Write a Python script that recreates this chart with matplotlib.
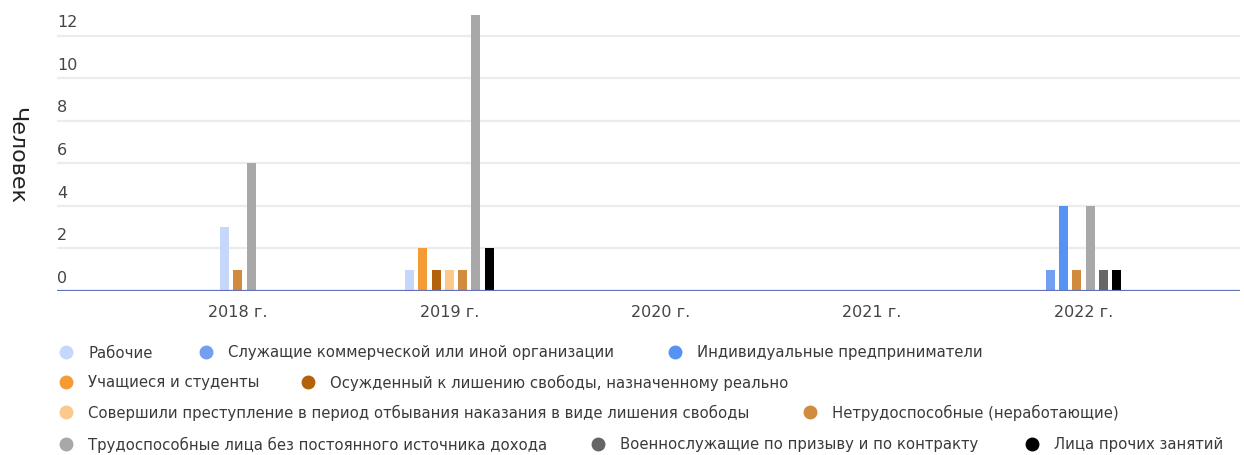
import matplotlib
matplotlib.use("Agg")
import matplotlib.pyplot as plt
import numpy as np

plt.rcParams['font.family'] = ['DejaVu Sans']

years = ['2018 г.', '2019 г.', '2020 г.', '2021 г.', '2022 г.']

series_names = [
    'Рабочие',
    'Служащие коммерческой или иной организации',
    'Индивидуальные предприниматели',
    'Учащиеся и студенты',
    'Осужденный к лишению свободы, назначенному реально',
    'Совершили преступление в период отбывания наказания в виде лишения свободы',
    'Нетрудоспособные (неработающие)',
    'Трудоспособные лица без постоянного источника дохода',
    'Военнослужащие по призыву и по контракту',
    'Лица прочих занятий',
]
colors = ['#c5d8fb', '#729ff0', '#5593f3', '#f49b35', '#b3610a',
          '#fbc98c', '#d08b3e', '#a8a8a8', '#666666', '#000000']

rabochie       = [3, 1, 0, 0, 0]
sluzhashie     = [0, 0, 0, 0, 1]
ip             = [0, 0, 0, 0, 4]
uchashiesya    = [0, 2, 0, 0, 0]
osuzhdenny     = [0, 1, 0, 0, 0]
sovershili     = [0, 1, 0, 0, 0]
netrudosp      = [1, 1, 0, 0, 1]
trudosp        = [6, 13, 0, 0, 4]
voennosluzh    = [0, 0, 0, 0, 1]
prochie        = [0, 2, 0, 0, 1]

values = [rabochie, sluzhashie, ip, uchashiesya, osuzhdenny,
          sovershili, netrudosp, trudosp, voennosluzh, prochie]

fig = plt.figure(figsize=(12.44, 4.56), dpi=100)
ax = fig.add_axes([0.0458, 0.3596, 0.951, 0.618])

slot = 0.0628
width = 0.043
x = np.arange(len(years))
for j in range(len(years)):
    idx = [i for i in range(len(values)) if values[i][j] > 0]
    n = len(idx)
    for k, i in enumerate(idx):
        ax.bar(x[j] + (k - (n - 1) / 2) * slot, values[i][j], width=width,
               color=colors[i], zorder=3)

ax.set_xlim(-0.856, 4.74)
ax.set_ylim(0, 13.25)
ax.set_yticks(range(0, 13, 2))
for t in range(2, 13, 2):
    ax.axhline(t, color='#ececec', lw=1.6, zorder=1)
ax.axhline(0, color='#6470b8', lw=1.6, zorder=4)
for s in ax.spines.values():
    s.set_visible(False)
ax.set_yticklabels([])
ax.tick_params(length=0)
ax.set_xticks(x)
ax.set_xticklabels(years, fontsize=11.5, color='#444444')
ax.tick_params(axis='x', pad=9)
for t in range(0, 13, 2):
    ax.text(0.0, t + 0.3, str(t), transform=ax.get_yaxis_transform(),
            ha='left', va='bottom', fontsize=11.5, color='#444444')

fig.text(0.013, 0.66, 'Человек', rotation=270, ha='center', va='center',
         fontsize=16, color='#222222')

# legend rows: (marker x px, series index)
leg_rows = [
    [(66, 0), (206, 1), (675, 2)],
    [(66, 3), (308, 4)],
    [(66, 5), (810, 6)],
    [(66, 7), (598, 8), (1032, 9)],
]
row_y = [353, 383, 413, 445]
for r, row in enumerate(leg_rows):
    yf = 1 - row_y[r] / 456
    for px, i in row:
        fig.lines.append(plt.Line2D([px / 1244], [yf], marker='o', markersize=9,
                                    color=colors[i], transform=fig.transFigure))
        fig.text((px + 22) / 1244, yf, series_names[i], ha='left', va='center',
                 fontsize=10.7, color='#3a3a3a')

fig.savefig('out.png', dpi=100, facecolor='white')
